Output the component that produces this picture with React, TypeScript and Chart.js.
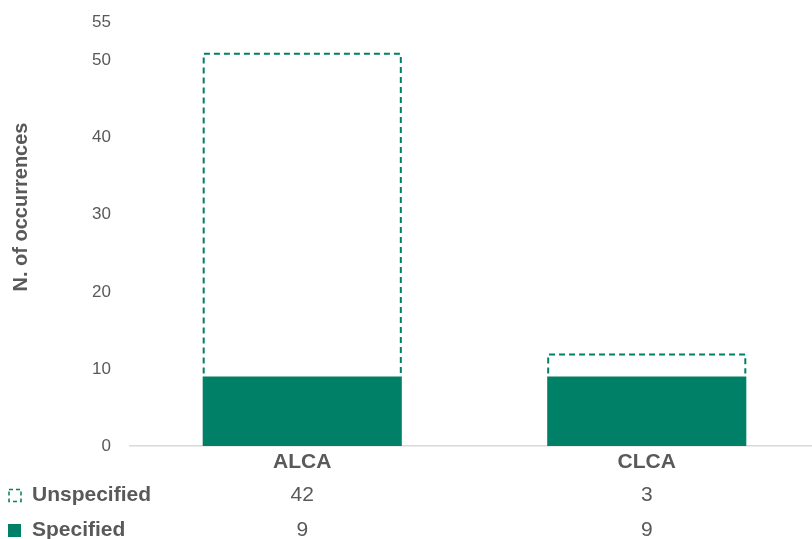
import React, { useEffect, useRef } from "react";
import { Chart, registerables } from "chart.js";

Chart.register(...registerables);

const categories = ["ALCA", "CLCA"];
const specified = [9, 9];
const unspecified = [42, 3];
const yTicks = [0, 10, 20, 30, 40, 50, 55];
const yTitle = "N. of occurrences";
const labelUnspecified = "Unspecified";
const labelSpecified = "Specified";

const GREEN = "#008066";
const TEXT = "#595959";
const FONT = "'Liberation Sans', Arial, Helvetica, sans-serif";

const dashedBarsPlugin = {
  id: "dashedBars",
  afterDatasetsDraw(chart: any) {
    const idx = chart.data.datasets.findIndex((d: any) => d.label === labelUnspecified);
    const meta = chart.getDatasetMeta(idx);
    const ctx = chart.ctx;
    ctx.save();
    ctx.strokeStyle = GREEN;
    ctx.lineWidth = 2;
    ctx.setLineDash([6, 4]);
    meta.data.forEach((bar: any) => {
      const { x, y, base, width } = bar.getProps(["x", "y", "base", "width"], true);
      const l = x - width / 2 + 1;
      const r = x + width / 2 - 1;
      ctx.beginPath();
      ctx.moveTo(l, base - 3);
      ctx.lineTo(l, y + 1);
      ctx.lineTo(r, y + 1);
      ctx.lineTo(r, base - 3);
      ctx.stroke();
    });
    ctx.restore();
  },
};

const tablePlugin = {
  id: "dataTable",
  afterDraw(chart: any) {
    const ctx = chart.ctx;
    const xs = chart.scales.x;
    const rows = [
      { label: labelUnspecified, values: unspecified, dashed: true, y: 495 },
      { label: labelSpecified, values: specified, dashed: false, y: 530 },
    ];
    ctx.save();
    ctx.textBaseline = "middle";
    rows.forEach((row) => {
      if (row.dashed) {
        ctx.strokeStyle = GREEN;
        ctx.lineWidth = 1.5;
        ctx.setLineDash([4, 3]);
        ctx.strokeRect(9, row.y - 5.5, 12, 12);
        ctx.setLineDash([]);
      } else {
        ctx.fillStyle = GREEN;
        ctx.fillRect(8, row.y - 6, 13, 13);
      }
      ctx.fillStyle = TEXT;
      ctx.textAlign = "left";
      ctx.font = `bold 21px ${FONT}`;
      ctx.fillText(row.label, 32, row.y);
      ctx.textAlign = "center";
      ctx.font = `21px ${FONT}`;
      row.values.forEach((v, i) => {
        ctx.fillText(String(v), xs.getPixelForValue(i), row.y);
      });
    });
    ctx.translate(21, 207);
    ctx.rotate(-Math.PI / 2);
    ctx.textAlign = "center";
    ctx.font = `bold 20px ${FONT}`;
    ctx.fillStyle = TEXT;
    ctx.fillText(yTitle, 0, 0);
    ctx.restore();
  },
};

export default function App() {
  const ref = useRef<HTMLCanvasElement>(null);

  useEffect(() => {
    if (!ref.current) return;
    const chart = new Chart(ref.current, {
      type: "bar",
      data: {
        labels: categories,
        datasets: [
          {
            label: labelSpecified,
            data: specified,
            backgroundColor: GREEN,
            borderWidth: 0,
            barPercentage: 0.578,
            categoryPercentage: 1,
          },
          {
            label: labelUnspecified,
            data: unspecified,
            backgroundColor: "rgba(255,255,255,0)",
            borderWidth: 0,
            barPercentage: 0.578,
            categoryPercentage: 1,
          },
        ],
      },
      options: {
        responsive: false,
        animation: false,
        devicePixelRatio: 1,
        layout: { padding: { top: 22, left: 0, right: 0, bottom: 0 } },
        plugins: {
          legend: { display: false },
          tooltip: { enabled: false },
          title: { display: false },
        },
        scales: {
          x: {
            stacked: true,
            grid: { display: false, drawTicks: false },
            border: { display: true, color: "#d9d9d9", width: 1.5 },
            ticks: {
              color: TEXT,
              font: { family: FONT, size: 21, weight: "bold" },
              padding: 4,
            },
            afterFit: (scale: any) => {
              scale.height = 93;
            },
          },
          y: {
            stacked: true,
            min: 0,
            max: 55,
            grid: { display: false, drawTicks: false },
            border: { display: false },
            ticks: {
              color: TEXT,
              font: { family: FONT, size: 17 },
              padding: 19,
            },
            afterBuildTicks: (scale: any) => {
              scale.ticks = yTicks.map((v) => ({ value: v }));
            },
            afterFit: (scale: any) => {
              scale.width = 130;
              scale.paddingTop = 0;
              scale.paddingBottom = 0;
            },
          },
        },
      },
      plugins: [dashedBarsPlugin, tablePlugin],
    });
    return () => chart.destroy();
  }, []);

  return (
    <div
      style={{
        position: "fixed",
        left: 0,
        top: 0,
        width: 812,
        height: 539,
        overflow: "hidden",
        background: "#fff",
      }}
    >
      <canvas ref={ref} width={819} height={539} style={{ display: "block" }} />
    </div>
  );
}
